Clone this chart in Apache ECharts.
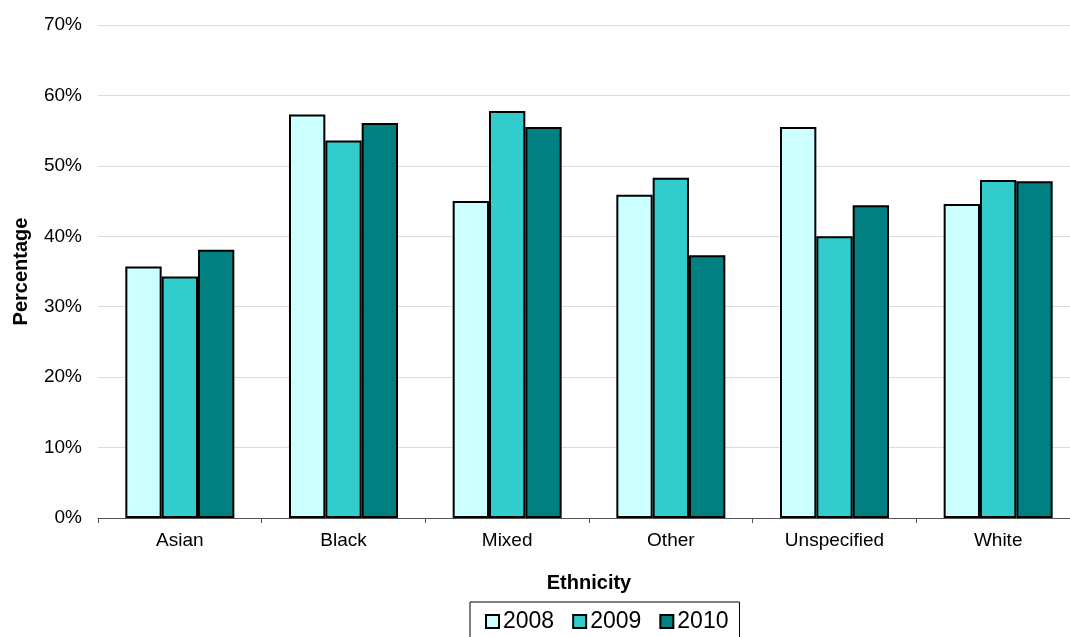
<!DOCTYPE html>
<html><head><meta charset="utf-8">
<script src="https://cdn.jsdelivr.net/npm/echarts@6/dist/echarts.min.js"></script>
<style>html,body{margin:0;padding:0;background:#fff;overflow:hidden}#c{width:1080px;height:637px}</style>
</head><body><div id="c"></div>
<script>
const categories = ["Asian", "Black", "Mixed", "Other", "Unspecified", "White"];
const years = ["2008", "2009", "2010"];
const v2008 = [35.7, 57.3, 45.0, 45.9, 55.5, 44.6];
const v2009 = [34.3, 53.6, 57.8, 48.3, 40.0, 48.0];
const v2010 = [38.1, 56.1, 55.5, 37.3, 44.4, 47.8];
const colors = ["#CCFFFF", "#33CCCC", "#008080"];
const yTicks = [0, 10, 20, 30, 40, 50, 60, 70];

const chart = echarts.init(document.getElementById('c'), null, {renderer: 'canvas'});
const font = 'Liberation Sans, Arial, sans-serif';
const seriesData = [v2008, v2009, v2010];
chart.setOption({
  animation: false,
  textStyle: {fontFamily: font},
  grid: {left: 98, right: 0, top: 25, bottom: 119, containLabel: false},
  legend: {
    data: years, top: 602, left: 470,
    itemWidth: 13, itemHeight: 13, itemGap: 18,
    borderColor: '#000', borderWidth: 1, padding: [8, 11, 20, 15],
    textStyle: {fontSize: 23, color: '#000', fontFamily: font, padding: [0, 0, 0, -1]},
    icon: 'rect'
  },
  xAxis: {
    type: 'category', data: categories,
    name: 'Ethnicity', nameLocation: 'middle', nameGap: 55,
    nameTextStyle: {fontWeight: 'bold', fontSize: 20, color: '#000'},
    axisLine: {lineStyle: {color: '#555', width: 1}},
    axisTick: {show: true, length: 5, lineStyle: {color: '#555'}},
    axisLabel: {fontSize: 19, color: '#000', margin: 13}
  },
  yAxis: {
    type: 'value', min: yTicks[0], max: yTicks[yTicks.length - 1], interval: 10,
    name: 'Percentage', nameLocation: 'middle', nameGap: 67, nameRotate: 90,
    nameTextStyle: {fontWeight: 'bold', fontSize: 20, color: '#000'},
    axisLine: {show: false}, axisTick: {show: false},
    axisLabel: {formatter: '{value}%', fontSize: 19, color: '#000', margin: 16},
    splitLine: {lineStyle: {color: '#dcdcdc', width: 1}}
  },
  series: years.map((y, i) => ({
    name: y, type: 'bar', data: seriesData[i],
    barGap: '0%', barCategoryGap: '33.4%',
    itemStyle: {color: colors[i], borderColor: '#000', borderWidth: 2}
  }))
});
</script></body></html>
